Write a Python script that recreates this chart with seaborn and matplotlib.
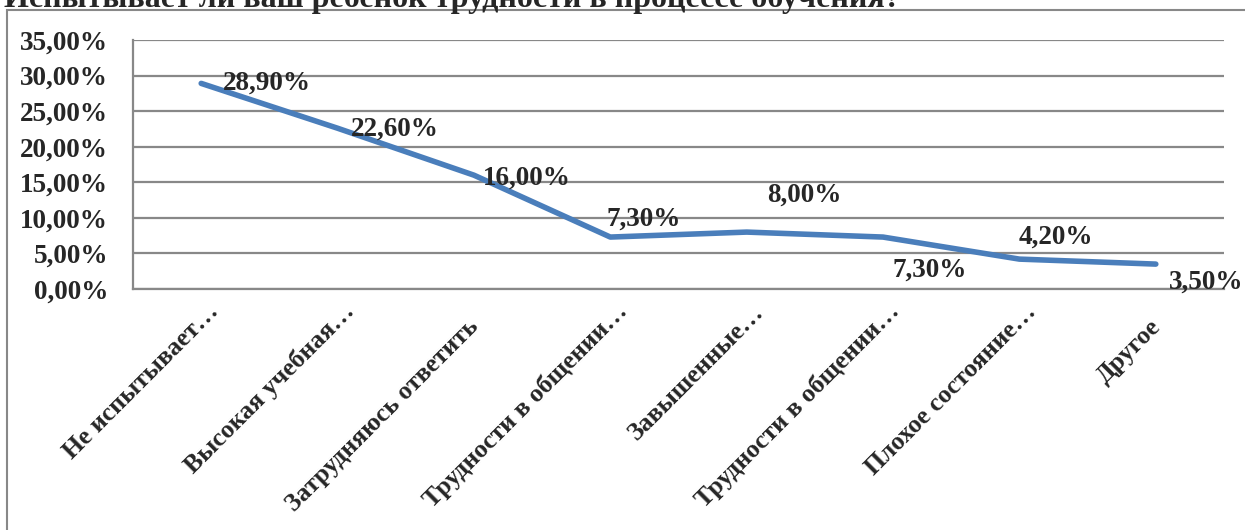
import numpy as np
import pandas as pd
import matplotlib
matplotlib.use("Agg")
import matplotlib.pyplot as plt
import seaborn as sns
from matplotlib.ticker import FuncFormatter, FixedLocator
from matplotlib.patches import Rectangle
from matplotlib.transforms import ScaledTranslation

# данные диаграммы
categories = ["Не испытывает…", "Высокая учебная…", "Затрудняюсь ответить",
              "Трудности в общении…", "Завышенные…", "Трудности в общении…",
              "Плохое состояние…", "Другое"]
values = [28.9, 22.6, 16.0, 7.3, 8.0, 7.3, 4.2, 3.5]
title = "Испытывает ли ваш ребенок трудности в процессе обучения?"

# смещения подписей данных (в пикселях)
label_offsets = [(22, 0), (13, -1), (9, -3), (-4, 18), (20, 37), (9, -33), (-1, 22), (13, -18)]

sns.set_style("white")
plt.rcParams['font.family'] = ['Liberation Serif', 'DejaVu Serif']
plt.rcParams['font.weight'] = 'bold'

df = pd.DataFrame({"pos": np.arange(len(values)), "value": values})

fig = plt.figure(figsize=(12.45, 5.30), dpi=100)
ax = fig.add_axes([133 / 1245, 1 - 289 / 530, (1224 - 133) / 1245, (289 - 40) / 530])

grid_color = "#888888"
sns.lineplot(data=df, x="pos", y="value", ax=ax, color="#4A7EBB", linewidth=4,
             solid_capstyle="round", zorder=3)

ax.set_xlim(-0.5, len(values) - 0.5)
ax.set_ylim(0, 35)
ax.yaxis.set_major_locator(FixedLocator(np.arange(0, 35.1, 5)))
ax.yaxis.set_major_formatter(FuncFormatter(lambda v, p: f"{v:.2f}%".replace(".", ",")))
ax.grid(axis="y", color=grid_color, linewidth=1.6)
ax.set_axisbelow(True)

ax.set_xticks(np.arange(len(values)))
ax.set_xticklabels(categories, rotation=45, ha="right", va="baseline", rotation_mode="anchor")
ax.set_xticks(np.arange(-0.5, len(values)), minor=True)
ax.tick_params(axis="x", which="major", length=0, pad=17, labelsize=18.5)
ax.tick_params(axis="x", which="minor", length=5, width=1.5, color=grid_color)
ax.tick_params(axis="y", length=6, width=1.5, color=grid_color, labelsize=19.5, pad=12)
for lbl in ax.get_xticklabels():
    # подписи без многоточия стоят чуть ниже и левее
    if lbl.get_text().endswith("…"):
        dx, dy = 18, 0
    else:
        dx, dy = 6, -15
    shift = ScaledTranslation(dx / 100, dy / 100, fig.dpi_scale_trans)
    lbl.set_transform(lbl.get_transform() + shift)
for lbl in ax.get_xticklabels() + ax.get_yticklabels():
    lbl.set_fontweight("bold")

for side in ["top", "right"]:
    ax.spines[side].set_visible(False)
for side in ["left", "bottom"]:
    ax.spines[side].set_color(grid_color)
    ax.spines[side].set_linewidth(1.6)

ax.set_xlabel("")
ax.set_ylabel("")

for i, (v, off) in enumerate(zip(values, label_offsets)):
    ax.annotate(f"{v:.2f}%".replace(".", ","), (i, v), xytext=off,
                textcoords="offset pixels", ha="left", va="center",
                fontsize=19.5, fontweight="bold", zorder=4)

# рамка диаграммы и заголовок (обрезан сверху)
fig.patches.append(Rectangle((7 / 1245, -0.1), 1.1, 1 - 10 / 530 + 0.1,
                             transform=fig.transFigure, fill=False,
                             edgecolor=grid_color, linewidth=1.5))
fig.text(4 / 1245, 1 - 7 / 530, title, ha="left", va="baseline",
         fontsize=23, fontweight="bold")

fig.savefig("out.png", dpi=100)
